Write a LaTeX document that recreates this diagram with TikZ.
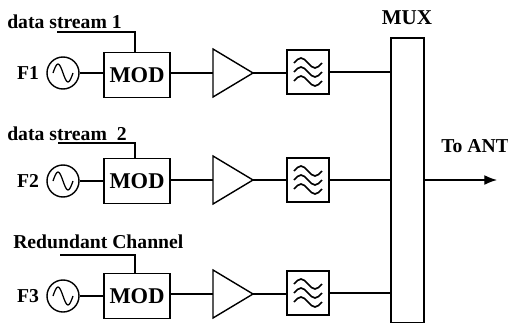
\documentclass[tikz,border=0pt]{standalone}
\usepackage{fontspec}
\setmainfont{Liberation Serif}
\usetikzlibrary{positioning,arrows.meta}

\tikzset{
  lbl/.style={font=\bfseries\fontsize{14}{16}\selectfont, inner sep=0pt},
  modbox/.style={draw, line width=1pt, minimum width=1.65cm, minimum height=1.12cm, inner sep=0pt, font=\bfseries\fontsize{16}{18}\selectfont},
  osc/.style={draw, circle, line width=1pt, minimum size=0.8cm, inner sep=0pt},
  filt/.style={draw, line width=1.1pt, minimum width=1.05cm, minimum height=1.1cm, inner sep=0pt},
  wire/.style={line width=0.9pt}
}

\begin{document}
\begin{tikzpicture}[x=0.025cm, y=-0.025cm]
\useasboundingbox (0,0) rectangle (508,323);

% row 1
\node[osc] (osc1) at (63,73) {};
\node[lbl, left=5pt of osc1] (f1) {F1};
\node[modbox] (mod1) at (137,75) {MOD};
\coordinate (amp1) at (213,73);
\node[filt] (filt1) at (308,72) {};
\node[lbl, anchor=west] (ds1) at (7,22) {data stream 1};

% row 2
\node[osc] (osc2) at (63,181) {};
\node[lbl, left=5pt of osc2] (f2) {F2};
\node[modbox] (mod2) at (137,181) {MOD};
\coordinate (amp2) at (213,180);
\node[filt] (filt2) at (308,180) {};
\node[lbl, anchor=west] (ds2) at (7,134) {data stream \ 2};

% row 3
\node[osc] (osc3) at (63,296) {};
\node[lbl, left=5pt of osc3] (f3) {F3};
\node[modbox] (mod3) at (137,296) {MOD};
\coordinate (amp3) at (213,294);
\node[filt] (filt3) at (308,293) {};
\node[lbl, anchor=west] (rc) at (13,242) {Redundant Channel};

% mux
\node[draw, line width=1.1pt, minimum width=0.83cm, minimum height=7.12cm, inner sep=0pt, anchor=north west] (mux) at (390,37) {};
\node[lbl, font=\bfseries\fontsize{15}{17}\selectfont] (muxl) at (407,18) {MUX};
\coordinate (ant) at (497,180);
\node[lbl, anchor=west] (tol) at (441,146) {To ANT};

% oscillator waves
\draw[line width=0.9pt, shift={(osc1)}] (-10,0) sin (-5,-9) cos (0,0) sin (5,9) cos (10,0);
\draw[line width=0.9pt, shift={(osc2)}] (-10,0) sin (-5,-9) cos (0,0) sin (5,9) cos (10,0);
\draw[line width=0.9pt, shift={(osc3)}] (-10,0) sin (-5,-9) cos (0,0) sin (5,9) cos (10,0);

% amplifiers
\draw[line width=1pt] (amp1) -- ++(0,-24) -- ++(40,24) coordinate (amp1e) -- ++(-40,24) -- cycle;
\draw[line width=1pt] (amp2) -- ++(0,-24) -- ++(40,24) coordinate (amp2e) -- ++(-40,24) -- cycle;
\draw[line width=1pt] (amp3) -- ++(0,-24) -- ++(40,24) coordinate (amp3e) -- ++(-40,24) -- cycle;

% filter waves
\draw[line width=1.2pt, shift={(filt1)}] (-14,-9) sin (-7,-14) cos (0,-9) sin (7,-4) cos (14,-9)
  (-14,0) sin (-7,-5) cos (0,0) sin (7,5) cos (14,0)
  (-14,9) sin (-7,4) cos (0,9) sin (7,14) cos (14,9);
\draw[line width=1.2pt, shift={(filt2)}] (-14,-9) sin (-7,-14) cos (0,-9) sin (7,-4) cos (14,-9)
  (-14,0) sin (-7,-5) cos (0,0) sin (7,5) cos (14,0)
  (-14,9) sin (-7,4) cos (0,9) sin (7,14) cos (14,9);
\draw[line width=1.2pt, shift={(filt3)}] (-14,-9) sin (-7,-14) cos (0,-9) sin (7,-4) cos (14,-9)
  (-14,0) sin (-7,-5) cos (0,0) sin (7,5) cos (14,0)
  (-14,9) sin (-7,4) cos (0,9) sin (7,14) cos (14,9);

% wires
\draw[wire] (osc1) -- (osc1 -| mod1.west);
\draw[wire] (mod1.east |- amp1) -- (amp1);
\draw[wire] (amp1e) -- (filt1.west |- amp1e);
\draw[wire] (filt1) ++(21,0) -- (filt1 -| mux.west);
\draw[wire] (57,32) -| (mod1.north -| 135,0);

\draw[wire] (osc2) -- (osc2 -| mod2.west);
\draw[wire] (mod2.east |- amp2) -- (amp2);
\draw[wire] (amp2e) -- (filt2.west |- amp2e);
\draw[wire] (filt2) ++(21,0) -- (filt2 -| mux.west);
\draw[wire] (58,143) -| (mod2.north -| 135,0);

\draw[wire] (osc3) -- (osc3 -| mod3.west);
\draw[wire] (mod3.east |- amp3) -- (amp3);
\draw[wire] (amp3e) -- (filt3.west |- amp3e);
\draw[wire] (filt3) ++(21,0) -- (filt3 -| mux.west);
\draw[wire] (60,255) -| (mod3.north -| 135,0);

\draw[wire, -{Latex[length=9pt, width=7pt]}] (mux.east |- ant) -- (ant);
\end{tikzpicture}
\end{document}
